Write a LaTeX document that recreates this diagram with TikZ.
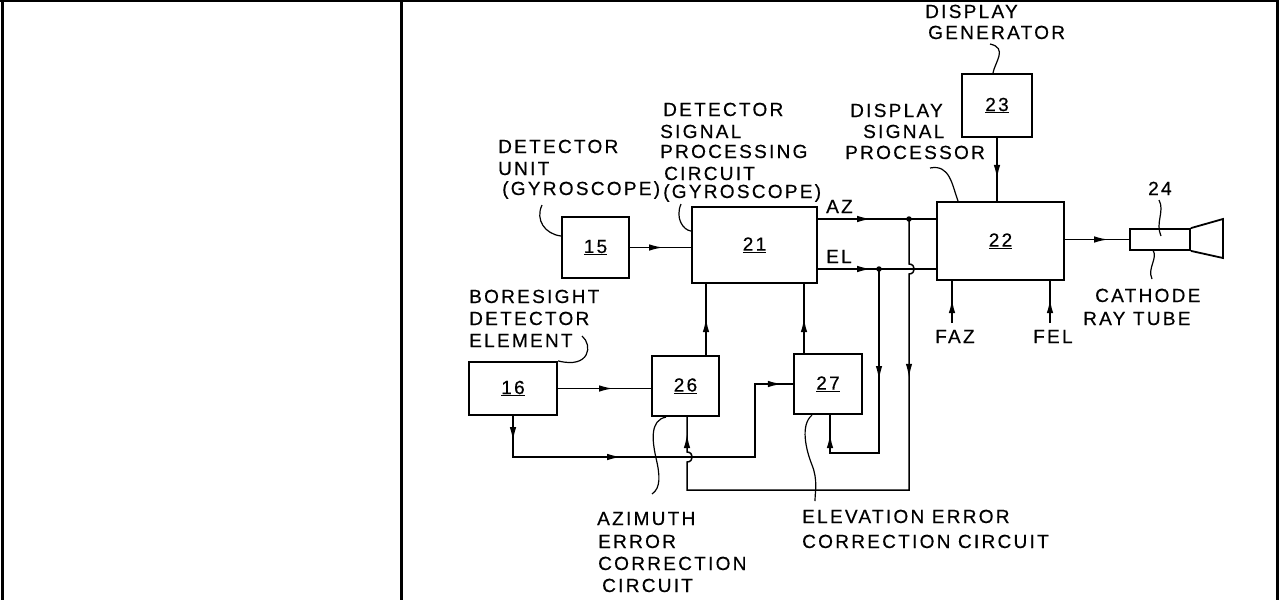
\documentclass[tikz,border=0pt]{standalone}
\usepackage{fontspec}
\newfontfamily\pat{Liberation Sans}[LetterSpace=12,FakeBold=0.5]
\usetikzlibrary{arrows.meta,decorations.markings,calc}
\begin{document}
\begin{tikzpicture}[x=1pt,y=-1pt,
  blk/.style={draw, line width=2.2pt, inner sep=0pt, font=\pat\fontsize{19}{21}\selectfont},
  conn/.style={line width=1.5pt},
  lead/.style={line width=1.2pt},
  lbl/.style={inner sep=0pt, anchor=base west, font=\pat\fontsize{19}{21}\selectfont},
  tip/.style={postaction={decorate,decoration={markings,mark=at position #1 with {\arrow{Latex[length=14pt,width=6.5pt]}}}}},
  jdot/.style={circle, fill, inner sep=0pt, minimum size=5.5pt},
  frameline/.style={line width=3pt}
]
\useasboundingbox (0,0) rectangle (1279,600);
% frame
\draw[frameline] (2,0) -- (2,600);
\draw[line width=2pt] (0,1) -- (1279,1);
\draw[frameline] (401,0) -- (401,600);
\draw[frameline] (1277.5,0) -- (1277.5,600);

% blocks
\node[blk, minimum width=67pt, minimum height=61pt] (b15) at (595.5,247.5) {\underline{15}};
\node[blk, minimum width=125pt, minimum height=76pt] (b21) at (754.5,245) {\underline{21}};
\node[blk, minimum width=127pt, minimum height=78pt] (b22) at (1000.5,241) {\underline{22}};
\node[blk, minimum width=70pt, minimum height=63pt] (b23) at (997,105.5) {\underline{23}};
\node[blk, minimum width=88pt, minimum height=53pt] (b16) at (513,388.5) {\underline{16}};
\node[blk, minimum width=67pt, minimum height=60pt] (b26) at (685.5,386) {\underline{26}};
\node[blk, minimum width=68pt, minimum height=60pt] (b27) at (828,384) {\underline{27}};
\node[draw, line width=1.8pt, inner sep=0pt, minimum width=60pt, minimum height=21pt] (b24) at (1160,239.5) {};
\coordinate (fn1) at (1223,219);
\coordinate (fn2) at (1223,258);
\draw[line width=1.8pt, line join=miter] (b24.north east) -- (fn1) -- (fn2) -- (b24.south east);

% coordinates
\coordinate (jaz) at (909,219);
\coordinate (jel) at (879,269);
\coordinate (fb27) at (830,453);
\coordinate (fb26) at (687,490);
\coordinate (lp1) at (513,457);
\coordinate (lp2) at (755,457);
\coordinate (faz) at (952,323);
\coordinate (fel) at (1050,323);

% connectors
\draw[conn, tip=33pt] (b15.east) -- (b15.east -| b21.west);
\draw[conn, tip=53pt] (b21.east |- jaz) -- (b22.west |- jaz);
\draw[conn, tip=53pt] (b21.east |- jel) -- (b22.west |- jel);
\draw[conn, tip=111pt, tip=-19pt] (jel) -- (jel |- fb27) -- (fb27) -- (fb27 |- b27.south);
\draw[conn, tip=165pt, tip=-17pt] (jaz) -- (jaz |- 0,264) .. controls +(7,0) and +(7,0) .. (jaz |- 0,274) -- (jaz |- fb26) -- (fb26) -- (fb26 |- 0,462) .. controls +(7,0) and +(7,0) .. (fb26 |- 0,452) -- (fb26 |- b26.south);
\draw[conn, tip=-34pt] ([xshift=20.5pt]b26.north) -- ([xshift=20.5pt]b26.north |- b21.south);
\draw[conn, tip=-34pt] ([xshift=-24pt]b27.north) -- ([xshift=-24pt]b27.north |- b21.south);
\draw[conn, tip=55pt] (b16.east) -- (b16.east -| b26.west);
\draw[conn, tip=25pt, tip=149pt, tip=-11pt] (b16.south) -- (lp1) -- (lp2) -- (lp2 |- b27.west) -- (b27.west);
\draw[conn, tip=-22pt] (b23.south) -- (b23.south |- b22.north);
\draw[conn, tip=43pt] (b22.east |- b24.west) -- (b24.west);
\draw[conn, tip=-18pt] (faz) -- (faz |- b22.south);
\draw[conn, tip=-18pt] (fel) -- (fel |- b22.south);
\node[jdot] (dz) at (jaz) {};
\node[jdot] (de) at (jel) {};

% labels
\node[lbl] (t1) at (498,153) {DETECTOR};
\node[lbl] (t2) at (498,175) {UNIT};
\node[lbl] (t3) at (502,195) {(GYROSCOPE)};
\node[lbl] (s1) at (663,116) {DETECTOR};
\node[lbl] (s2) at (660,138) {SIGNAL};
\node[lbl] (s3) at (660,158) {PROCESSING};
\node[lbl] (s4) at (664,180) {CIRCUIT};
\node[lbl] (s5) at (663,198) {(GYROSCOPE)};
\node[lbl] (az) at (826,213) {AZ};
\node[lbl] (el) at (826,263) {EL};
\node[lbl] (g1) at (925,18) {DISPLAY};
\node[lbl] (g2) at (928,39) {GENERATOR};
\node[lbl] (p1) at (850,117) {DISPLAY};
\node[lbl] (p2) at (863,138) {SIGNAL};
\node[lbl] (p3) at (845,159) {PROCESSOR};
\node[lbl] (n24) at (1148,195) {24};
\node[lbl] (c1) at (1095,302) {CATHODE};
\node[lbl] (c2) at (1083,325) {RAY TUBE};
\node[lbl] (lfaz) at (935,343) {FAZ};
\node[lbl] (lfel) at (1033,343) {FEL};
\node[lbl] (bs1) at (469,303) {BORESIGHT};
\node[lbl] (bs2) at (469,325) {DETECTOR};
\node[lbl] (bs3) at (469,347) {ELEMENT};
\node[lbl] (a1) at (597,525) {AZIMUTH};
\node[lbl] (a2) at (598,548) {ERROR};
\node[lbl] (a3) at (598,570) {CORRECTION};
\node[lbl] (a4) at (602,592) {CIRCUIT};
\node[lbl] (e1) at (802,523) {ELEVATION ERROR};
\node[lbl] (e2) at (802,548) {CORRECTION CIRCUIT};

% leader lines
\draw[lead] (990,44) .. controls (1008,48) and (995,62) .. (b23.north -| 993,0);
\draw[lead] (930,168) .. controls (950,164) and (952,185) .. (b22.north -| 958,0);
\draw[lead] (1159,200) .. controls (1165,211) and (1155,223) .. (1161,236);
\draw[lead] (1153,250) .. controls (1158,259) and (1147,268) .. (1152,279);
\draw[lead] (542,205) .. controls (535,220) and (545,234) .. (b15.west |- 0,236);
\draw[lead] (681,204) .. controls (675,218) and (683,230) .. (b21.west |- 0,231);
\draw[lead] (582,336) .. controls (593,345) and (590,369) .. (b16.north east);
\draw[lead] (b26.south -| 666,0) .. controls (650,420) and (652,440) .. (656,458) .. controls (660,475) and (661,488) .. (652,494);
\draw[lead] (b27.south -| 812,0) .. controls (800,425) and (806,450) .. (812,465) .. controls (818,480) and (815,492) .. (815,501);
\end{tikzpicture}
\end{document}
